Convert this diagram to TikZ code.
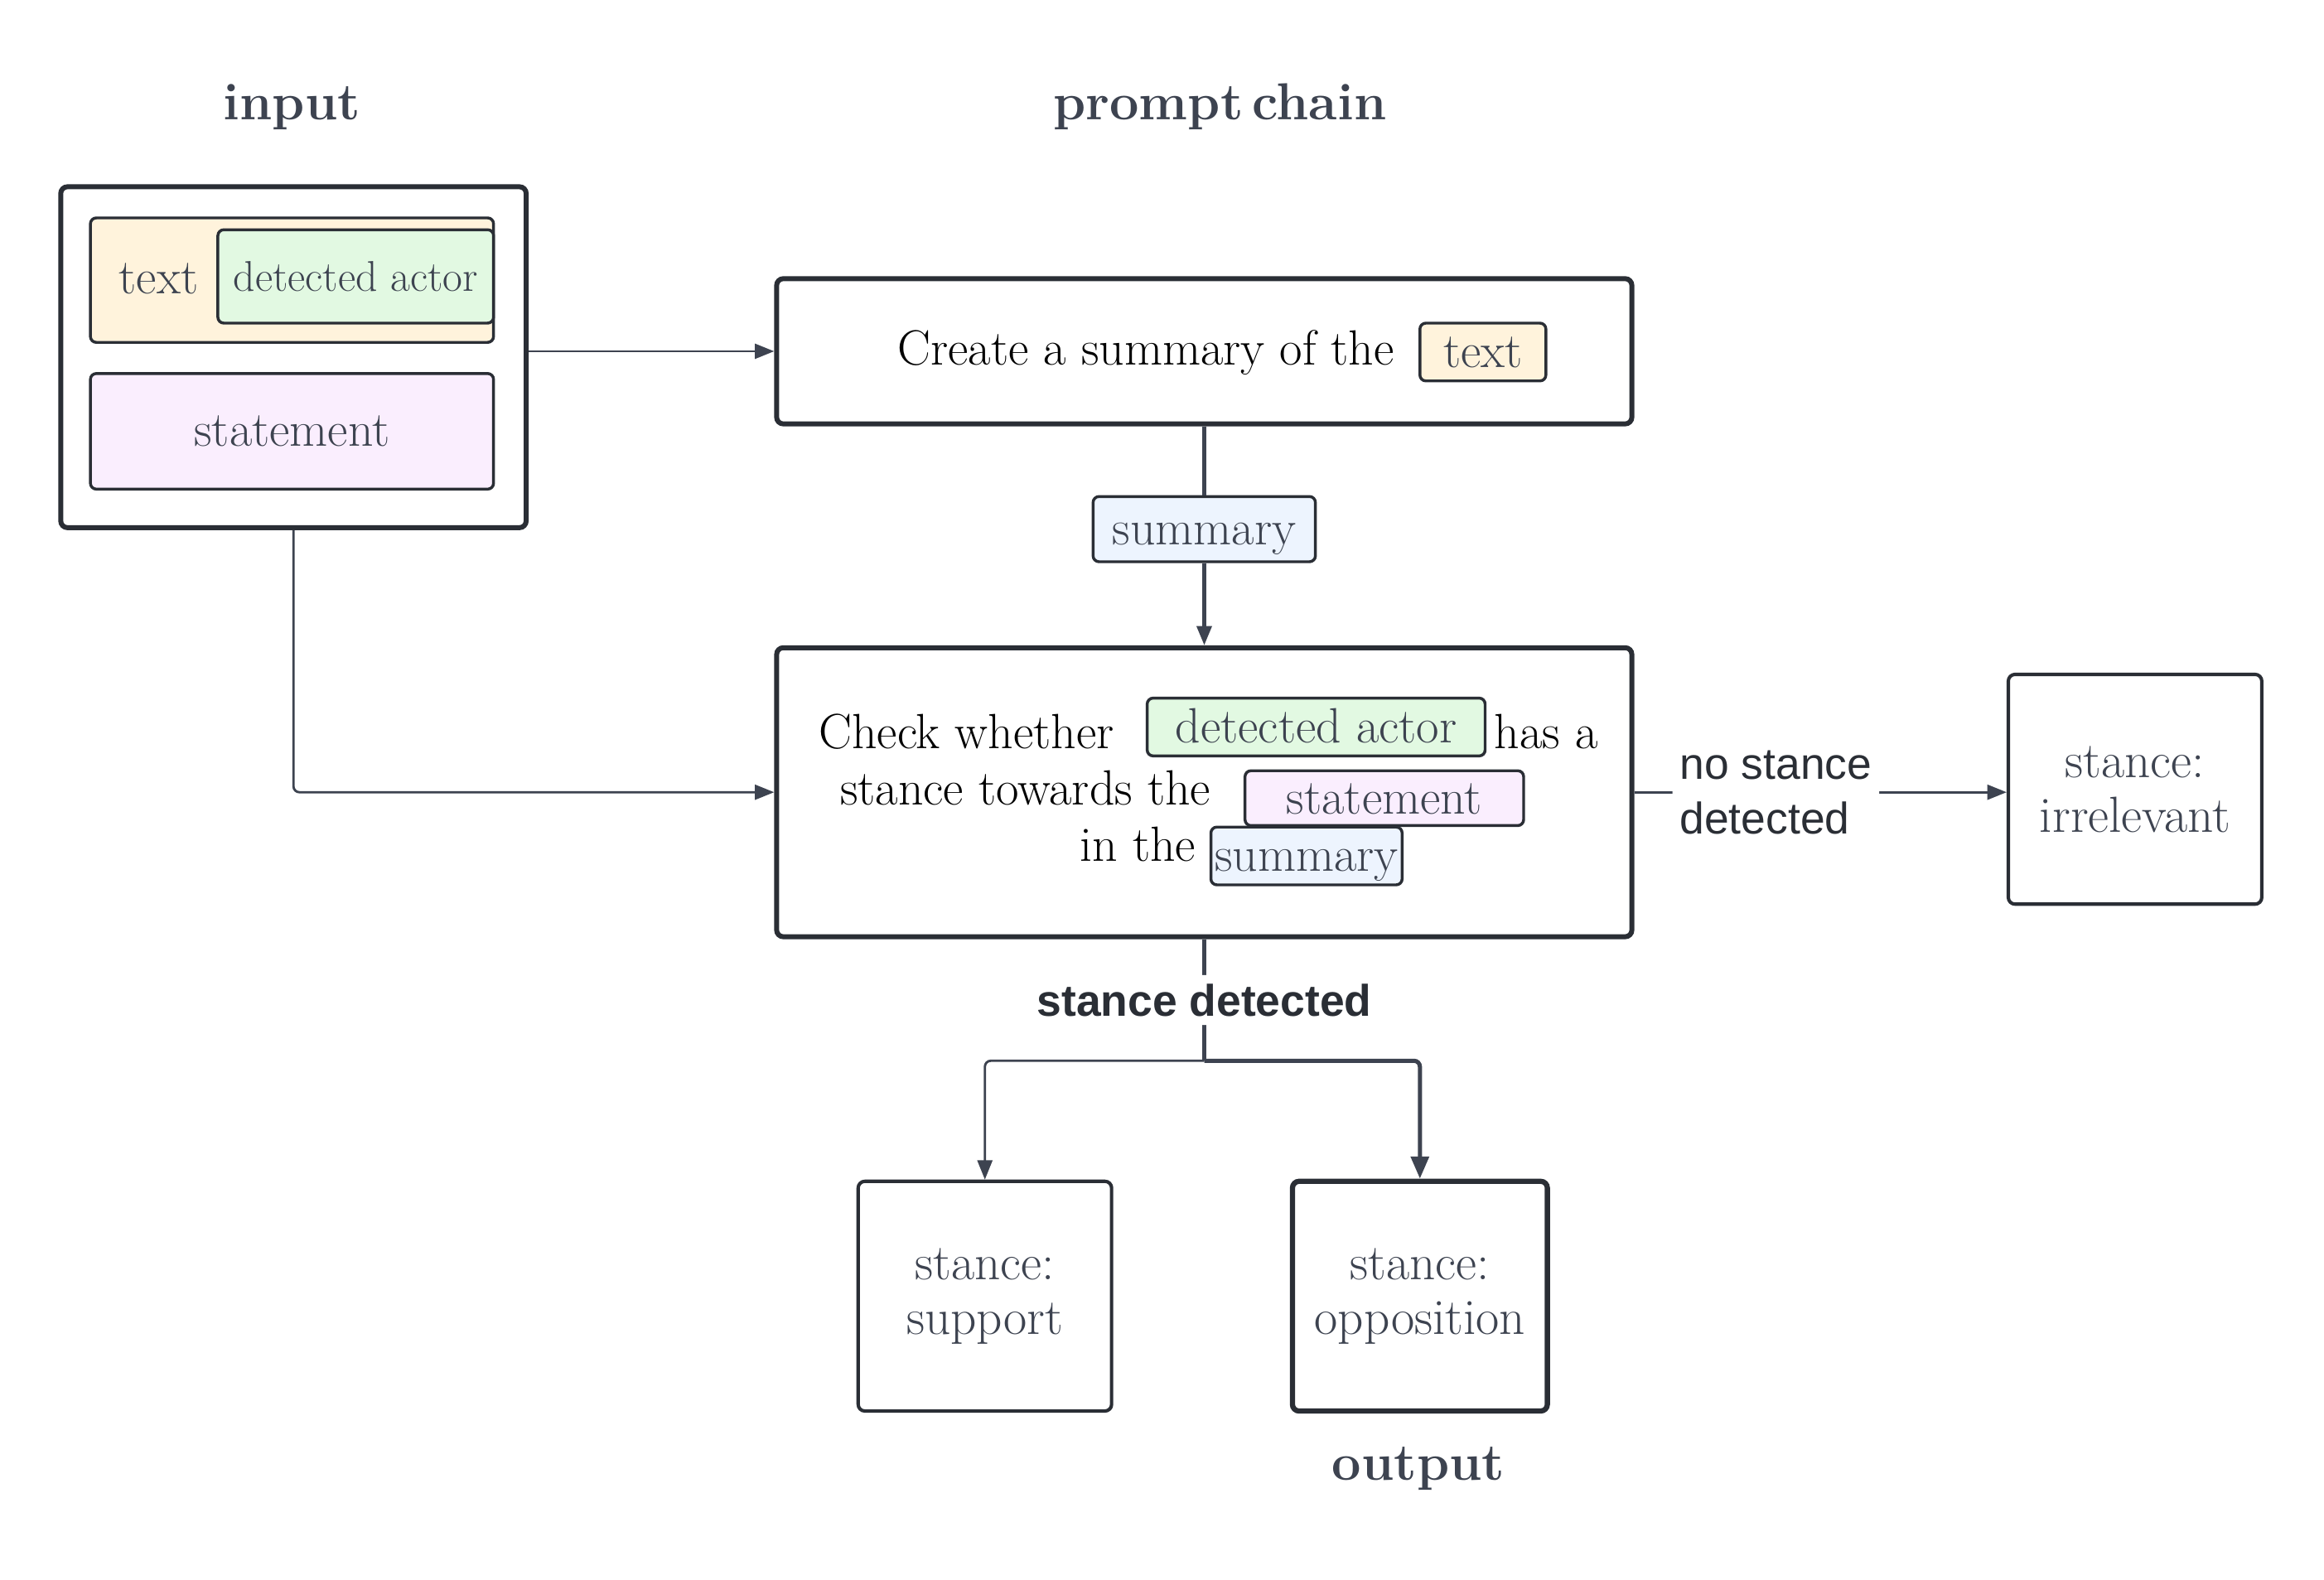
\documentclass[tikz,border=0pt]{standalone}
\usepackage{fontspec}
\newfontfamily\lsans{Liberation Sans}
\usetikzlibrary{arrows.meta,positioning,calc}
\definecolor{scEdge}{RGB}{42,46,53}
\definecolor{scInk}{RGB}{61,67,80}
\definecolor{scText}{RGB}{255,243,220}
\definecolor{scActor}{RGB}{226,249,226}
\definecolor{scStmt}{RGB}{250,238,254}
\definecolor{scSum}{RGB}{237,244,254}
\newcommand{\bigtxt}{\fontsize{19}{22}\selectfont}

\begin{document}
\begin{tikzpicture}[x=0.2mm,y=-0.2mm,
      sz/.style 2 args={minimum width=#1*0.2mm,minimum height=#2*0.2mm},
      box/.style={draw=scEdge,line width=1.9pt,rounded corners=0.9mm,fill=white,inner sep=0pt,
                  align=center,font=\bigtxt},
      outbox/.style={box,line width=1.3pt,text=scInk,font=\fontsize{19.5}{21}\selectfont},
      chip/.style={draw=scEdge,line width=1.1pt,rounded corners=0.8mm,inner sep=0pt,text=scInk,font=\bigtxt},
      slot/.style={chip,text height=12pt,text depth=0pt},
      title/.style={font=\fontsize{20}{24}\selectfont\bfseries,text=scInk},
      word/.style={font=\bigtxt,inner sep=0pt},
      link/.style={draw=scInk,line width=0.9pt,rounded corners=0.8mm},
      arr/.style={link,-{Triangle[length=2.6mm,width=2mm]}}]
    \useasboundingbox (0,0) rectangle (1568,1066);
    \node[title] (tIn) at (197,72) {input};
    \node[title] (tChain) at (823,72) {prompt\,chain};
    \node[box,sz={314}{230}] (inp) at (198,241) {};
    \node[chip,fill=scText,sz={272}{84}] (inText) at (197,189) {};
    \node[word,text=scInk] (inTextLbl) at (107,188) {text};
    \node[chip,fill=scActor,sz={186}{63},font=\fontsize{16.5}{20}\selectfont] (inActor) at (240,186.5) {detected actor};
    \node[chip,fill=scStmt,sz={272}{78}] (inStmt) at (197,291) {statement};
    \node[box,sz={577}{98}] (sumBox) at (812.5,237) {};
    \node[word,anchor=base east] (sumTxt) at (941,246) {Create a summary of the};
    \node[slot,fill=scText,sz={85}{39}] (sumTextChip) at (1000.5,237.5) {text};
    \node[slot,fill=scSum,sz={150}{44}] (sumChip) at (812.5,357) {summary};
    \node[box,sz={577}{195}] (chkBox) at (812.5,534.5) {};
    \node[word,anchor=base east] (chkA) at (752,505) {Check whether};
    \node[slot,fill=scActor,sz={228}{39}] (chkActor) at (888,490.5) {detected actor};
    \node[word,anchor=base west] (chkB) at (1008,505) {has a};
    \node[word,anchor=base east] (chkC) at (817,543) {stance towards the};
    \node[slot,fill=scStmt,sz={188}{37}] (chkStmt) at (934,538.5) {statement};
    \node[word,anchor=base east] (chkD) at (807,581) {in the};
    \node[slot,fill=scSum,sz={129}{39}] (chkSum) at (881.5,577.5) {summary};
    \node[outbox,sz={171}{155}] (irr) at (1440.5,532.5) {stance:\\irrelevant};
    \node[outbox,sz={171}{155}] (sup) at (664.5,874.5) {stance:\\support};
    \node[outbox,line width=2pt,sz={172}{155}] (opp) at (958,874.5) {stance:\\opposition};
    \node[title] (tOut) at (957,991) {output};
    \coordinate (split) at ($(chkBox.south)+(0,82)$);
    \draw[arr] (inp.east |- sumBox.west) -- (sumBox.west);
    \draw[arr] (inp.south) |- (chkBox.west);
    \draw[link,line width=1.3pt] (sumBox.south) -- (sumChip.north);
    \draw[arr,line width=1.3pt] (sumChip.south) -- (chkBox.north);
    \draw[arr] (chkBox.east) -- node[pos=0.38,fill=white,align=left,font=\lsans\fontsize{17}{21}\selectfont,
      text=scEdge,inner sep=1mm] {no stance\\detected} (chkBox.east -| irr.west);
    \draw[link,line width=1.3pt] (chkBox.south) -- node[fill=white,font=\lsans\bfseries\fontsize{17}{21}\selectfont,
      text=scEdge] {stance detected} (split);
    \draw[arr] (split) -| (sup.north);
    \draw[arr,line width=1.6pt,-{Triangle[length=3mm,width=2.4mm]}] (split) -| (opp.north);
  \end{tikzpicture}
\end{document}
